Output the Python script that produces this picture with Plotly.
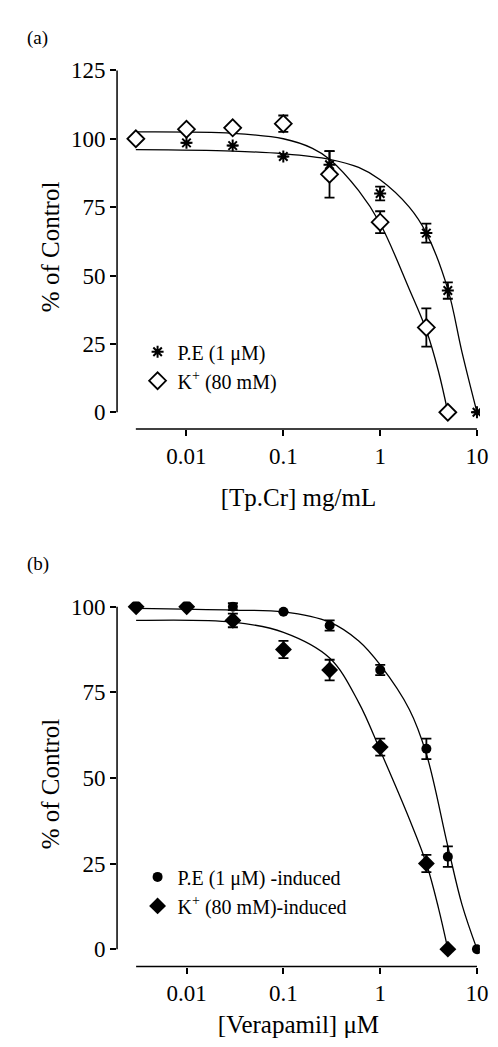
import plotly.graph_objects as go

# panel (a): Tp.Cr
a_x = [0.003, 0.01, 0.03, 0.1, 0.3, 1, 3, 5, 10]
a_pe = [100, 98.5, 97.5, 93.5, 90.5, 80, 65.5, 44.5, 0]
a_pe_err = [0, 0, 0, 0, 5, 2.5, 3.5, 3, 0]
a_k_x = [0.003, 0.01, 0.03, 0.1, 0.3, 1, 3, 5]
a_k = [100, 103.5, 104, 105.5, 87, 69.5, 31, 0]
a_k_err = [0, 0, 0, 3, 8.5, 4, 7, 0]
a_pe_fit_x = [0.003, 0.03, 0.1, 0.3, 0.6, 1, 2, 3, 5, 7, 10]
a_pe_fit = [96, 95.5, 94.5, 92.5, 89.5, 85, 75, 65.5, 45, 22, 0]
a_k_fit_x = [0.003, 0.03, 0.1, 0.2, 0.3, 0.6, 1, 2, 3, 4, 5]
a_k_fit = [102.5, 102, 100, 96.5, 92.5, 81, 69, 45, 30, 15, 0]

# panel (b): Verapamil
b_x = [0.003, 0.01, 0.03, 0.1, 0.3, 1, 3, 5, 10]
b_pe = [100, 100, 100, 98.5, 94.5, 81.5, 58.5, 27, 0]
b_pe_err = [0, 0, 1, 0, 1.5, 1.5, 3, 3, 0]
b_k_x = [0.003, 0.01, 0.03, 0.1, 0.3, 1, 3, 5]
b_k = [100, 100, 96, 87.5, 81.5, 59, 25, 0]
b_k_err = [0, 0, 2, 2.5, 3, 2.5, 2.5, 0]
b_pe_fit_x = [0.003, 0.03, 0.1, 0.3, 0.6, 1, 2, 3, 5, 7, 10]
b_pe_fit = [99.5, 99, 98.5, 95.5, 90, 83, 70, 57, 30, 13, 0]
b_k_fit_x = [0.003, 0.03, 0.1, 0.3, 0.6, 1, 2, 3, 4, 5]
b_k_fit = [96, 95.5, 92.5, 85, 72, 58, 38, 25, 12, 0]

FONT = "Liberation Serif"
fig = go.Figure()

def fit(x, y, xa, ya):
    fig.add_trace(go.Scatter(x=x, y=y, mode="lines", line=dict(color="black", width=1.3, shape="spline"),
                             showlegend=False, xaxis=xa, yaxis=ya, hoverinfo="skip"))

fit(a_pe_fit_x, a_pe_fit, "x", "y")
fit(a_k_fit_x, a_k_fit, "x", "y")
fit(b_pe_fit_x, b_pe_fit, "x2", "y2")
fit(b_k_fit_x, b_k_fit, "x2", "y2")

eb = lambda e: dict(type="data", array=e, color="black", thickness=1.8, width=5)

fig.add_trace(go.Scatter(x=a_x, y=a_pe, error_y=eb(a_pe_err), mode="markers", name="P.E (1 μM)",
                         marker=dict(symbol="asterisk-open", size=10, color="black", line=dict(width=2, color="black")),
                         xaxis="x", yaxis="y", legend="legend"))
fig.add_trace(go.Scatter(x=a_k_x, y=a_k, error_y=eb(a_k_err), mode="markers", name="K<sup>+</sup> (80 mM)",
                         marker=dict(symbol="diamond", size=13, color="white", line=dict(width=1.8, color="black")),
                         xaxis="x", yaxis="y", legend="legend"))
fig.add_trace(go.Scatter(x=b_x, y=b_pe, error_y=eb(b_pe_err), mode="markers", name="P.E (1 μM) -induced",
                         marker=dict(symbol="circle", size=10, color="black"),
                         xaxis="x2", yaxis="y2", legend="legend2"))
fig.add_trace(go.Scatter(x=b_k_x, y=b_k, error_y=eb(b_k_err), mode="markers", name="K<sup>+</sup> (80 mM)-induced",
                         marker=dict(symbol="diamond", size=13, color="black"),
                         xaxis="x2", yaxis="y2", legend="legend2"))

xcommon = dict(type="log", tickvals=[0.01, 0.1, 1, 10], ticktext=["0.01", "0.1", "1", "10"],
               ticks="outside", ticklen=6, tickwidth=1.5, tickcolor="black", showline=False,
               showgrid=False, zeroline=False, tickfont=dict(size=23, family=FONT, color="black"),
               title_font=dict(size=25, family=FONT, color="black"))
ycommon = dict(ticks="outside", ticklen=6, tickwidth=1.5, tickcolor="black", showline=False,
               showgrid=False, zeroline=False, tickfont=dict(size=23, family=FONT, color="black"),
               title_font=dict(size=25, family=FONT, color="black"), title_text="% of Control",
               title_standoff=4)

fig.update_layout(
    width=498, height=1047, margin=dict(l=0, r=0, t=0, b=0),
    plot_bgcolor="white", paper_bgcolor="white",
    xaxis=dict(xcommon, domain=[0.223, 0.965], range=[-2.717, 1.03], anchor="y",
               title_text="[Tp.Cr] mg/mL", title_standoff=20),
    yaxis=dict(ycommon, domain=[0.602, 0.952], range=[-6.1, 127], anchor="x", tickvals=[0, 25, 50, 75, 100, 125]),
    xaxis2=dict(xcommon, domain=[0.223, 0.965], range=[-2.72, 1.03], anchor="y2",
                title_text="[Verapamil] μM", title_standoff=10),
    yaxis2=dict(ycommon, domain=[0.085, 0.436], range=[-5.1, 101.5], anchor="x2", tickvals=[0, 25, 50, 75, 100]),
    legend=dict(x=0.265, y=0.695, xanchor="left", yanchor="top", bgcolor="rgba(0,0,0,0)",
                font=dict(size=20, family=FONT, color="black"), tracegroupgap=8),
    legend2=dict(x=0.265, y=0.19, xanchor="left", yanchor="top", bgcolor="rgba(0,0,0,0)",
                 font=dict(size=20, family=FONT, color="black"), tracegroupgap=8),
    font=dict(family=FONT, color="black"),
)

# detached axis lines (GraphPad style)
line = dict(color="black", width=1.5)
fig.add_shape(type="line", xref="x domain", yref="y", x0=0, x1=0, y0=0, y1=125, line=line)
fig.add_shape(type="line", xref="x", yref="y domain", x0=0.003, x1=10, y0=0, y1=0, line=line)
fig.add_shape(type="line", xref="x2 domain", yref="y2", x0=0, x1=0, y0=0, y1=100, line=line)
fig.add_shape(type="line", xref="x2", yref="y2 domain", x0=0.003, x1=10, y0=0, y1=0, line=line)

fig.add_annotation(text="(a)", x=0.035, y=0.99, xref="paper", yref="paper", showarrow=False,
                   xanchor="left", yanchor="top", font=dict(size=19, family=FONT, color="black"))
fig.add_annotation(text="(b)", x=0.035, y=0.485, xref="paper", yref="paper", showarrow=False,
                   xanchor="left", yanchor="top", font=dict(size=19, family=FONT, color="black"))

fig.write_html("out.html")
